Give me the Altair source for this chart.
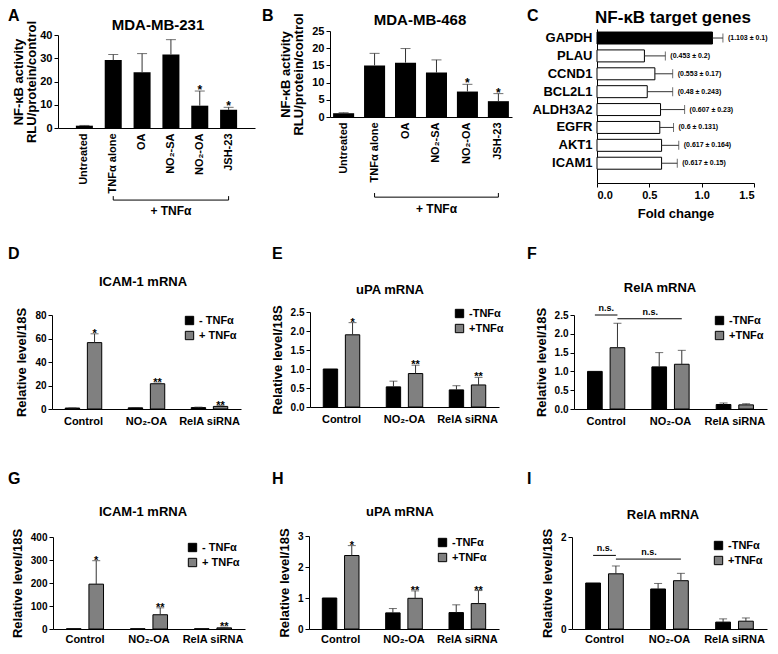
import altair as alt
import pandas as pd

FONT = "Liberation Sans"
W, H = 762, 638
ERR = "#333333"

# ---------------- data ----------------
# Panels A / B
cats_ab = ["Untreated", "TNFα alone", "OA", "NO₂-SA", "NO₂-OA", "JSH-23"]
a_vals = [1.0, 29.2, 24.0, 31.6, 9.6, 7.8]
a_errs = [0.1, 2.4, 8.0, 6.4, 6.3, 1.1]
a_stars = ["", "", "", "", "*", "*"]
a_ticks = [0, 10, 20, 30, 40]

b_vals = [1.1, 15.0, 15.8, 12.9, 7.4, 4.6]
b_errs = [0.15, 3.5, 4.1, 3.7, 2.1, 2.2]
b_stars = ["", "", "", "", "*", "*"]
b_ticks = [0, 5, 10, 15, 20, 25]

bracket_cats = ["TNFα alone", "JSH-23"]
bracket_mid = "NO₂-SA"

# Panel C
genes = ["GAPDH", "PLAU", "CCND1", "BCL2L1", "ALDH3A2", "EGFR", "AKT1", "ICAM1"]
fold = [1.103, 0.453, 0.553, 0.48, 0.607, 0.6, 0.617, 0.617]
fold_err = [0.1, 0.2, 0.17, 0.243, 0.23, 0.131, 0.164, 0.15]
c_ticks = [0, 0.5, 1.0, 1.5]

# Panels D - I
groups = ["Control", "NO₂-OA", "RelA siRNA"]
conds_sp = ["- TNFα", "+ TNFα"]
conds = ["-TNFα", "+TNFα"]
stars_grp = ["*", "**", "**"]
no_stars = ["", "", ""]

d_minus, d_minus_err = [0.8, 1.0, 1.2], [0.1, 0.3, 0.4]
d_plus, d_plus_err = [56.5, 21.5, 2.2], [7.5, 0.6, 0.6]
d_ticks = [0, 20, 40, 60, 80]

e_minus, e_minus_err = [1.0, 0.53, 0.45], [0.0, 0.15, 0.11]
e_plus, e_plus_err = [1.9, 0.88, 0.58], [0.32, 0.22, 0.2]
e_ticks = [0, 0.5, 1.0, 1.5, 2.0, 2.5]

f_minus, f_minus_err = [1.0, 1.12, 0.12], [0.0, 0.38, 0.04]
f_plus, f_plus_err = [1.63, 1.19, 0.11], [0.65, 0.37, 0.03]
f_ticks = [0, 0.5, 1.0, 1.5, 2.0, 2.5]
f_ns_levels = [2.5, 2.4]

g_minus, g_minus_err = [1.0, 1.0, 1.0], [0.0, 0.0, 0.0]
g_plus, g_plus_err = [195, 62, 5], [102, 30, 3]
g_ticks = [0, 100, 200, 300, 400]

h_minus, h_minus_err = [1.0, 0.52, 0.53], [0.0, 0.14, 0.25]
h_plus, h_plus_err = [2.37, 0.99, 0.82], [0.32, 0.24, 0.42]
h_ticks = [0, 1, 2, 3]

i_minus, i_minus_err = [1.0, 0.87, 0.15], [0.0, 0.12, 0.07]
i_plus, i_plus_err = [1.2, 1.05, 0.17], [0.17, 0.16, 0.07]
i_ticks = [0, 1, 2]
i_ns_levels = [1.6, 1.52]


# ---------------- helpers ----------------
def label(text, x, y, size, align="center", baseline="middle"):
    return alt.Chart(pd.DataFrame({"t": [text]})).mark_text(
        font=FONT, fontWeight="bold", fontSize=size, align=align,
        baseline=baseline, color="black"
    ).encode(x=alt.value(x), y=alt.value(y), text="t:N")


def bar_panel(vals, errs, stars, ticks, geo, title, tpos, letter, lpos, ann, tpad):
    x0, x1, y0, y1, ymax, pi, po, al = geo
    df = pd.DataFrame({"cat": cats_ab, "value": vals,
                       "top": [v + e for v, e in zip(vals, errs)], "star": stars})
    xs = alt.Scale(type="band", domain=cats_ab, range=[x0, x1], paddingInner=pi,
                   paddingOuter=po, align=al)
    ys = alt.Scale(domain=[0, ymax], range=[y0, y1], nice=False, zero=True)
    xax = alt.Axis(orient="bottom", offset=y0 - H, title=None, labelAngle=270,
                   labelFontSize=11, labelPadding=5, ticks=False, labelOverlap=False)
    yax = alt.Axis(orient="left", offset=-x0, values=ticks, format="d",
                   title=["NF-κB activity", "RLU/protein/control"],
                   titleFontSize=13, titleLineHeight=13, titlePadding=tpad,
                   tickSize=4, labelFontSize=11, labelPadding=2)

    def X(axis=None):
        return alt.X("cat:N", scale=xs, axis=axis)

    def Y(field, axis=None):
        return alt.Y(f"{field}:Q", scale=ys, axis=axis)

    bars = alt.Chart(df).mark_bar(color="black").encode(x=X(xax), y=Y("value", yax))
    err = alt.Chart(df).mark_rule(color=ERR, strokeWidth=1).encode(
        x=X(), y=Y("value"), y2="top:Q")
    caps = alt.Chart(df).mark_tick(color=ERR, thickness=1, size=10).encode(
        x=X(), y=Y("top"))
    st = alt.Chart(df[df.star != ""]).mark_text(
        font=FONT, fontWeight="bold", fontSize=12, baseline="alphabetic", dy=3
    ).encode(x=X(), y=Y("top"), text="star:N")

    br_y, br_tick, br_text = ann
    br = pd.DataFrame({"cat": [bracket_cats[0]], "cat2": [bracket_cats[1]], "lvl": [br_y]})
    bracket = alt.Chart(br).mark_rule(color="black", strokeWidth=1).encode(
        x=X(), x2="cat2:N", y=Y("lvl"))
    ends = pd.DataFrame({"cat": bracket_cats, "lvl": [br_y, br_y], "lvl2": [br_tick, br_tick]})
    bends = alt.Chart(ends).mark_rule(color="black", strokeWidth=1).encode(
        x=X(), y=Y("lvl"), y2="lvl2:Q")
    bt = pd.DataFrame({"cat": [bracket_mid], "lvl": [br_text], "t": ["+ TNFα"]})
    btext = alt.Chart(bt).mark_text(font=FONT, fontWeight="bold", fontSize=12,
                                    baseline="middle").encode(
        x=X(), y=Y("lvl"), text="t:N")

    return [bars, err, caps, st, bracket, bends, btext,
            label(title, tpos[0], tpos[1], 15),
            label(letter, lpos[0], lpos[1], 16, align="left", baseline="top")]


def gene_panel():
    x0, x1, y0, y1 = 589, 746, 21, 175
    df = pd.DataFrame({"gene": genes, "fold": fold,
                       "end": [f + e for f, e in zip(fold, fold_err)],
                       "lab": [f"({f} ± {e})" for f, e in zip(fold, fold_err)]})
    ys = alt.Scale(type="band", domain=genes, range=[y0, y1], paddingInner=0.33,
                   paddingOuter=0.47, align=0.18)
    xs = alt.Scale(domain=[0, 1.5], range=[x0, x1], nice=False)
    yax = alt.Axis(orient="left", offset=-x0, title=None, ticks=False,
                   labelFontSize=13, labelPadding=5)
    xax = alt.Axis(orient="bottom", offset=y1 - H, values=c_ticks, format=".1f",
                   title="Fold change", titleFontSize=13, titlePadding=7,
                   tickSize=4, labelFontSize=11, labelPadding=2)

    def Y(axis=None):
        return alt.Y("gene:N", scale=ys, axis=axis)

    def X(field, axis=None):
        return alt.X(f"{field}:Q", scale=xs, axis=axis)

    bars = alt.Chart(df).mark_bar(stroke="black", strokeWidth=1).encode(
        y=Y(yax), x=X("fold", xax),
        fill=alt.condition(alt.datum.gene == "GAPDH", alt.value("black"), alt.value("white")))
    err = alt.Chart(df).mark_rule(color=ERR, strokeWidth=1).encode(
        y=Y(), x=X("fold"), x2="end:Q")
    caps = alt.Chart(df).mark_tick(color=ERR, thickness=1, size=9).encode(
        y=Y(), x=X("end"))
    txt = alt.Chart(df).mark_text(font=FONT, fontWeight="bold", fontSize=7,
                                  align="left", dx=5, baseline="middle").encode(
        y=Y(), x=X("end"), text="lab:N")
    return [bars, err, caps, txt,
            label("NF-κB target genes", 665, 10, 17),
            label("C", 519, 0, 16, align="left", baseline="top")]


def grouped_panel(cnd, minus, minus_err, plus, plus_err, stars, ticks, fmt, geo,
                  title, tpos, letter, lpos, lxy, ns=None, lpad=6):
    x0, x1, y0, y1, ymax = geo
    rows = []
    for g, m, me, p, pe, s in zip(groups, minus, minus_err, plus, plus_err, stars):
        rows.append({"grp": g, "cond": cnd[0], "value": m, "err": me, "top": m + me, "star": ""})
        rows.append({"grp": g, "cond": cnd[1], "value": p, "err": pe, "top": p + pe, "star": s})
    df = pd.DataFrame(rows)
    xs = alt.Scale(type="band", domain=groups, range=[x0, x1], paddingInner=0, paddingOuter=0)
    os_ = alt.Scale(type="band", domain=cnd, paddingInner=0.35, paddingOuter=0.6)
    ys = alt.Scale(domain=[0, ymax], range=[y0, y1], nice=False, zero=True)
    xax = alt.Axis(orient="bottom", offset=y0 - H, title=None, labelAngle=0,
                   labelFontSize=11, labelPadding=lpad, ticks=False, labelOverlap=False)
    yax = alt.Axis(orient="left", offset=-x0, values=ticks, format=fmt,
                   title="Relative level/18S", titleFontSize=13, titlePadding=6,
                   tickSize=4, labelFontSize=10, labelPadding=2)

    def X(axis=None):
        return alt.X("grp:N", scale=xs, axis=axis)

    def XO():
        return alt.XOffset("cond:N", scale=os_)

    def Y(field, axis=None):
        return alt.Y(f"{field}:Q", scale=ys, axis=axis)

    leg = alt.Legend(orient="none", legendX=lxy[0], legendY=lxy[1], title=None,
                     symbolType="square", symbolSize=70, symbolStrokeColor="black",
                     symbolStrokeWidth=1, labelFont=FONT, labelFontWeight="bold",
                     labelFontSize=11, labelColor="black", rowPadding=2,
                     labelOffset=4, padding=0)
    bars = alt.Chart(df).mark_bar(stroke="black", strokeWidth=1).encode(
        x=X(xax), xOffset=XO(), y=Y("value", yax),
        color=alt.Color("cond:N", scale=alt.Scale(domain=cnd, range=["black", "#808080"]),
                        legend=leg))
    de = df[df.err > 0]
    err = alt.Chart(de).mark_rule(color=ERR, strokeWidth=1).encode(
        x=X(), xOffset=XO(), y=Y("value"), y2="top:Q")
    caps = alt.Chart(de).mark_tick(color=ERR, thickness=1, size=8).encode(
        x=X(), xOffset=XO(), y=Y("top"))
    layers = [bars, err, caps]
    ds = df[df.star != ""]
    if len(ds):
        layers.append(alt.Chart(ds).mark_text(
            font=FONT, fontWeight="bold", fontSize=11, baseline="alphabetic", dy=3
        ).encode(x=X(), xOffset=XO(), y=Y("top"), text="star:N"))
    if ns is not None:
        l1, l2 = ns
        seg = pd.DataFrame({"grp": [groups[0], groups[0], groups[0], groups[1]],
                            "cond": [cnd[0], cnd[1], cnd[1], cnd[1]],
                            "lvl": [l1, l1, l2, l2], "seg": ["a", "a", "b", "b"]})
        layers.append(alt.Chart(seg).mark_line(color="black", strokeWidth=1).encode(
            x=X(), xOffset=XO(), y=Y("lvl"), detail="seg:N"))
        t1 = pd.DataFrame({"grp": [groups[0]], "lvl": [l1], "t": ["n.s."]})
        layers.append(alt.Chart(t1).mark_text(font=FONT, fontWeight="bold", fontSize=9,
                                              baseline="bottom", dy=-2).encode(
            x=X(), y=Y("lvl"), text="t:N"))
        t2 = pd.DataFrame({"grp": [groups[1]], "cond": [cnd[0]], "lvl": [l2], "t": ["n.s."]})
        layers.append(alt.Chart(t2).mark_text(font=FONT, fontWeight="bold", fontSize=9,
                                              baseline="bottom", dy=-2, dx=-9).encode(
            x=X(), xOffset=XO(), y=Y("lvl"), text="t:N"))
    layers.append(label(title, tpos[0], tpos[1], 13))
    layers.append(label(letter, lpos[0], lpos[1], 16, align="left", baseline="top"))
    return layers


# ---------------- panels ----------------
units = []
units += bar_panel(a_vals, a_errs, a_stars, a_ticks, (50, 247, 120, 27, 40, 0.41, 0.62, 0.5),
                   "MDA-MB-231", (150, 17), "A", (0, 0), (-31.0, -29.3, -35.5), 1)
units += bar_panel(b_vals, b_errs, b_stars, b_ticks, (322, 504, 109, 23, 25, 0.32, 0.1, 0.5),
                   "MDA-MB-468", (412, 12), "B", (254, 0), (-23.3, -22.1, -26.7), 6)
units += gene_panel()
units += grouped_panel(conds_sp, d_minus, d_minus_err, d_plus, d_plus_err, stars_grp, d_ticks, "d",
                       (44, 233, 401, 307, 80), "ICAM-1 mRNA", (135, 274), "D", (0, 238), (176, 307))
units += grouped_panel(conds, e_minus, e_minus_err, e_plus, e_plus_err, stars_grp, e_ticks, ".1f",
                       (302, 491, 399, 304, 2.5), "uPA mRNA", (382, 282), "E", (264, 238), (446, 300))
units += grouped_panel(conds, f_minus, f_minus_err, f_plus, f_plus_err, no_stars, f_ticks, ".1f",
                       (566, 759, 401, 307, 2.5), "RelA mRNA", (652, 280), "F", (519, 238), (706, 307),
                       ns=f_ns_levels)
units += grouped_panel(conds_sp, g_minus, g_minus_err, g_plus, g_plus_err, stars_grp, g_ticks, "d",
                       (45, 237, 621, 529, 400), "ICAM-1 mRNA", (135, 504), "G", (0, 463), (179, 534),
                       lpad=4)
units += grouped_panel(conds, h_minus, h_minus_err, h_plus, h_plus_err, stars_grp, h_ticks, "d",
                       (301, 491, 621, 528, 3), "uPA mRNA", (392, 504), "H", (264, 463), (429, 529),
                       lpad=4)
units += grouped_panel(conds, i_minus, i_minus_err, i_plus, i_plus_err, no_stars, i_ticks, "d",
                       (564, 759, 621, 529, 2), "RelA mRNA", (655, 507), "I", (519, 463), (705, 532),
                       ns=i_ns_levels, lpad=4)

chart = alt.layer(*units).resolve_scale(
    x="independent", y="independent", xOffset="independent", color="independent"
).resolve_axis(x="independent", y="independent").resolve_legend(
    color="independent"
).properties(
    width=W, height=H, autosize=alt.AutoSizeParams(type="none"), padding=0
).configure_view(stroke=None).configure_axis(
    labelFont=FONT, titleFont=FONT, labelFontWeight="bold", titleFontWeight="bold",
    labelColor="black", titleColor="black", domainColor="black", tickColor="black",
    grid=False
).configure_text(font=FONT)

chart.save("out.html", embed_options={"renderer": "svg", "actions": False})
